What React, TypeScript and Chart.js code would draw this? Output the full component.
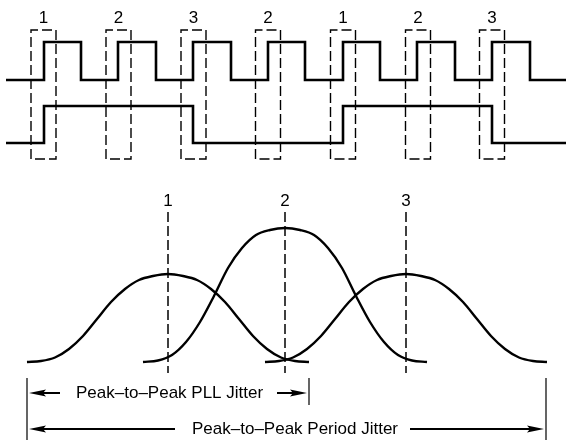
import React, { useEffect, useRef } from "react";
import { Chart, registerables } from "chart.js";

Chart.register(...registerables);

// ---- Diagram data (diagram units) ----
const traceStart = 6;
const traceEnd = 566;
// clock trace: alternating rising / falling edge times
const clockEdges = [44, 81, 118, 156, 193, 231, 268, 305, 343, 380, 417, 455, 492, 530];
const clockLevels = [80, 42]; // [low, high]
// recovered data trace: edge times
const dataEdges = [44, 193, 343, 492];
const dataLevels = [143, 106]; // [low, high]

// sampling windows around the clock rising edges
const windowCenters = [43.5, 118.5, 193.5, 268, 343, 418, 492];
const windowLabels = ["1", "2", "3", "2", "1", "2", "3"];
const windowTop = 30;
const windowBottom = 159;
const windowLabelY = 18.5;

// jitter distributions
const jitterLabels = ["1", "2", "3"];
const jitterCenters = [168, 285, 406];
const jitterLabelY = 201;
const jitterLineTop = 212;
const jitterLineBottom = 373;

const dist1X = [27, 41, 55, 69, 83, 97, 111, 125, 139, 153, 168, 183, 197, 211, 225, 239, 253, 267, 281, 295, 309];
const dist1Y = [362, 361, 357.5, 349, 336, 319, 302, 289, 280, 276, 274, 276, 280, 289, 302, 319, 336, 349, 357.5, 361, 362];
const dist2X = [143, 158, 172, 186, 200, 214, 228, 242, 256, 270, 285, 300, 314, 328, 342, 356, 370, 384, 398, 412, 427];
const dist2Y = [362, 360.5, 355, 342, 322, 296, 268, 248, 235, 230, 228, 230, 235, 248, 268, 296, 322, 342, 355, 360.5, 362];
const dist3X = [265, 279, 293, 307, 321, 335, 349, 363, 377, 391, 406, 421, 435, 449, 463, 477, 491, 505, 519, 533, 547];
const dist3Y = [362, 361, 357.5, 349, 336, 319, 302, 289, 280, 276, 274, 276, 280, 289, 302, 319, 336, 349, 357.5, 361, 362];

// measurement spans
const spanLabels = ["Peak\u2013to\u2013Peak PLL Jitter", "Peak\u2013to\u2013Peak Period Jitter"];
const spanStarts = [27, 27];
const spanEnds = [309, 546];
const spanRows = [393, 429];
const spanTextLeft = [76, 192];
const spanGapStart = [60, 175];
const spanGapEnd = [277, 410];
const spanMarkTop = 378;
const spanMarkBottoms = [440, 405, 440];

const FONT = '17px "Liberation Sans", Arial, Helvetica, sans-serif';

function pts(xs: number[], ys: number[]) {
  return xs.map((x, i) => ({ x, y: ys[i] }));
}

function stepTrace(edges: number[], levels: number[], startHigh: boolean) {
  let level = startHigh ? 1 : 0;
  const out = [{ x: traceStart, y: levels[level] }];
  edges.forEach((e) => {
    level = 1 - level;
    out.push({ x: e, y: levels[level] });
  });
  out.push({ x: traceEnd, y: levels[level] });
  return out;
}

const annotate = {
  id: "annotate",
  afterDatasetsDraw(chart: any) {
    const { ctx } = chart;
    const xs = chart.scales.x;
    const ys = chart.scales.y;
    const px = (v: number) => xs.getPixelForValue(v);
    const py = (v: number) => ys.getPixelForValue(v);
    ctx.save();
    ctx.fillStyle = "#000";
    ctx.strokeStyle = "#000";
    ctx.font = FONT;
    ctx.textAlign = "center";
    ctx.textBaseline = "middle";
    windowLabels.forEach((l, i) => ctx.fillText(l, px(windowCenters[i]), py(windowLabelY)));
    jitterLabels.forEach((l, i) => ctx.fillText(l, px(jitterCenters[i]), py(jitterLabelY)));

    // spans with arrows
    spanLabels.forEach((label, i) => {
      const yy = py(spanRows[i]);
      const a = px(spanStarts[i]) + 2;
      const b = px(spanEnds[i]) - 2;
      ctx.lineWidth = 2.2;
      ctx.beginPath();
      ctx.moveTo(a + 8, yy);
      ctx.lineTo(px(spanGapStart[i]), yy);
      ctx.moveTo(px(spanGapEnd[i]), yy);
      ctx.lineTo(b - 8, yy);
      ctx.stroke();
      const head = (tip: number, dir: number) => {
        ctx.beginPath();
        ctx.moveTo(tip, yy);
        ctx.lineTo(tip + dir * 17, yy - 3.6);
        ctx.lineTo(tip + dir * 14, yy);
        ctx.lineTo(tip + dir * 17, yy + 3.6);
        ctx.closePath();
        ctx.fill();
      };
      head(a, 1);
      head(b, -1);
      ctx.textAlign = "left";
      ctx.fillText(label, px(spanTextLeft[i]), yy);
    });
    ctx.restore();
  },
};

export default function App() {
  const ref = useRef<HTMLCanvasElement>(null);
  useEffect(() => {
    if (!ref.current) return;
    const black = "#000";
    const datasets: any[] = [];
    const dashed = [10, 4];

    windowCenters.forEach((c) => {
      const l = c - 12.5;
      const r = c + 12.5;
      datasets.push({
        data: [
          { x: l, y: windowBottom },
          { x: l, y: windowTop },
          { x: r, y: windowTop },
          { x: r, y: windowBottom },
          { x: l, y: windowBottom },
        ],
        borderColor: black,
        borderWidth: 1.4,
        borderDash: dashed,
        tension: 0,
      });
    });

    datasets.push({
      data: stepTrace(clockEdges, clockLevels, false),
      borderColor: black,
      borderWidth: 2.6,
      stepped: true,
      borderJoinStyle: "miter",
    });
    datasets.push({
      data: stepTrace(dataEdges, dataLevels, false),
      borderColor: black,
      borderWidth: 2.6,
      stepped: true,
      borderJoinStyle: "miter",
    });

    jitterCenters.forEach((c) => {
      datasets.push({
        data: [
          { x: c, y: jitterLineTop },
          { x: c, y: jitterLineBottom },
        ],
        borderColor: black,
        borderWidth: 1.5,
        borderDash: dashed,
      });
    });

    [pts(dist1X, dist1Y), pts(dist2X, dist2Y), pts(dist3X, dist3Y)].forEach((d) => {
      datasets.push({
        data: d,
        borderColor: black,
        borderWidth: 2.4,
        cubicInterpolationMode: "monotone",
      });
    });

    const markXs = [spanStarts[0], spanEnds[0], spanEnds[1]];
    markXs.forEach((mx, i) => {
      datasets.push({
        data: [
          { x: mx, y: spanMarkTop },
          { x: mx, y: spanMarkBottoms[i] },
        ],
        borderColor: black,
        borderWidth: 1.2,
      });
    });

    datasets.forEach((d) => {
      d.showLine = true;
      d.pointRadius = 0;
      d.clip = false;
      d.fill = false;
    });

    const chart = new Chart(ref.current, {
      type: "scatter",
      data: { datasets },
      options: {
        animation: false,
        responsive: false,
        events: [],
        layout: { padding: 0 },
        plugins: { legend: { display: false }, tooltip: { enabled: false } },
        scales: {
          x: { type: "linear", min: 0, max: 566, display: false },
          y: { type: "linear", min: 0, max: 440, reverse: true, display: false },
        },
      },
      plugins: [annotate],
    } as any);
    return () => chart.destroy();
  }, []);

  return (
    <div style={{ position: "absolute", left: 0, top: 0, width: 566, height: 440, background: "#fff" }}>
      <canvas ref={ref} width={566} height={440} style={{ display: "block" }} />
    </div>
  );
}
